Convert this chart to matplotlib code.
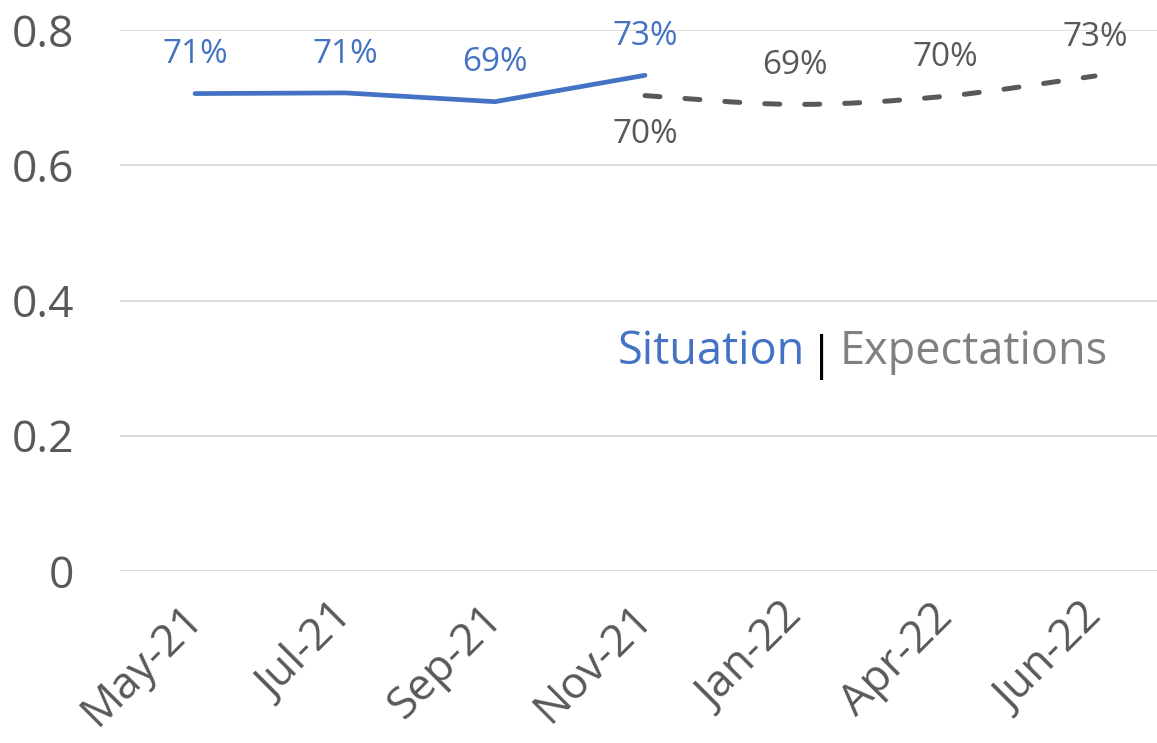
import matplotlib
matplotlib.use('Agg')
import matplotlib.pyplot as plt
from matplotlib.path import Path
from matplotlib.patches import PathPatch
from matplotlib.transforms import ScaledTranslation

meses = ['May-21', 'Jul-21', 'Sep-21', 'Nov-21', 'Jan-22', 'Apr-22', 'Jun-22']
situacao = [0.706, 0.707, 0.694, 0.733]
expectativas = [0.703, 0.690, 0.702, 0.732]
yticks = [0, 0.2, 0.4, 0.6, 0.8]
ytick_labels = ['0', '0.2', '0.4', '0.6', '0.8']

AZUL = '#4472C4'
CINZA = '#595959'

plt.rcParams['font.family'] = ['Open Sans', 'DejaVu Sans']


def caminho_suave(xs, ys):
    # curva bezier estilo excel (catmull-rom)
    pts = list(zip(xs, ys))
    verts = [pts[0]]
    codes = [Path.MOVETO]
    for i in range(len(pts) - 1):
        p0 = pts[i - 1] if i > 0 else pts[i]
        p1 = pts[i]
        p2 = pts[i + 1]
        p3 = pts[i + 2] if i + 2 < len(pts) else pts[i + 1]
        c1 = (p1[0] + (p2[0] - p0[0]) / 6, p1[1] + (p2[1] - p0[1]) / 6)
        c2 = (p2[0] - (p3[0] - p1[0]) / 6, p2[1] - (p3[1] - p1[1]) / 6)
        verts += [c1, c2, p2]
        codes += [Path.CURVE4] * 3
    return Path(verts, codes)


fig = plt.figure(figsize=(11.57, 7.43), dpi=100)
ax = fig.add_axes([120 / 1157, 172 / 743, 1050 / 1157, 541 / 743])

x_sit = list(range(len(situacao)))
x_exp = list(range(3, 3 + len(expectativas)))

ax.plot(x_sit, situacao, color=AZUL, lw=3.4, solid_capstyle='round')

patch = PathPatch(caminho_suave(x_exp, expectativas), facecolor='none',
                  edgecolor=CINZA, lw=3.6, linestyle=(0, (3, 5)),
                  capstyle='round')
ax.add_patch(patch)

for x, v in zip(x_sit, situacao):
    ax.annotate(f'{v:.0%}', (x, v), xytext=(0, 28), textcoords='offset points',
                ha='center', va='center', fontsize=24, color=AZUL)

for i, (x, v) in enumerate(zip(x_exp, expectativas)):
    dy = -28 if i == 0 else 28
    ax.annotate(f'{v:.0%}', (x, v), xytext=(0, dy), textcoords='offset points',
                ha='center', va='center', fontsize=24, color=CINZA)

ax.text(0.6524, 0.405, 'Situation', transform=ax.transAxes, ha='right',
        va='center', fontsize=32.5, color=AZUL)
ax.text(0.6686, 0.395, '|', transform=ax.transAxes, ha='center',
        va='center', fontsize=33, color='black')
ax.text(0.6857, 0.405, 'Expectations', transform=ax.transAxes, ha='left',
        va='center', fontsize=32.5, color='#808080')

ax.set_xlim(-0.5, 6.5)
ax.set_ylim(0, 0.8)
ax.set_yticks(yticks)
ax.set_yticklabels(ytick_labels)
ax.set_xticks(range(len(meses)))
ax.set_xticklabels(meses, rotation=45, ha='right', rotation_mode='anchor')
ax.tick_params(axis='both', length=0, labelsize=32, labelcolor=CINZA)
ax.tick_params(axis='y', pad=33)
ax.tick_params(axis='x', pad=12)
desloc = ScaledTranslation(-0.14, -0.08, fig.dpi_scale_trans)
for lbl in ax.get_xticklabels():
    lbl.set_transform(lbl.get_transform() + desloc)
ax.grid(axis='y', color='#d9d9d9', lw=1.3)
ax.set_axisbelow(True)
for s in ax.spines.values():
    s.set_visible(False)

fig.savefig('out.png', dpi=100)
